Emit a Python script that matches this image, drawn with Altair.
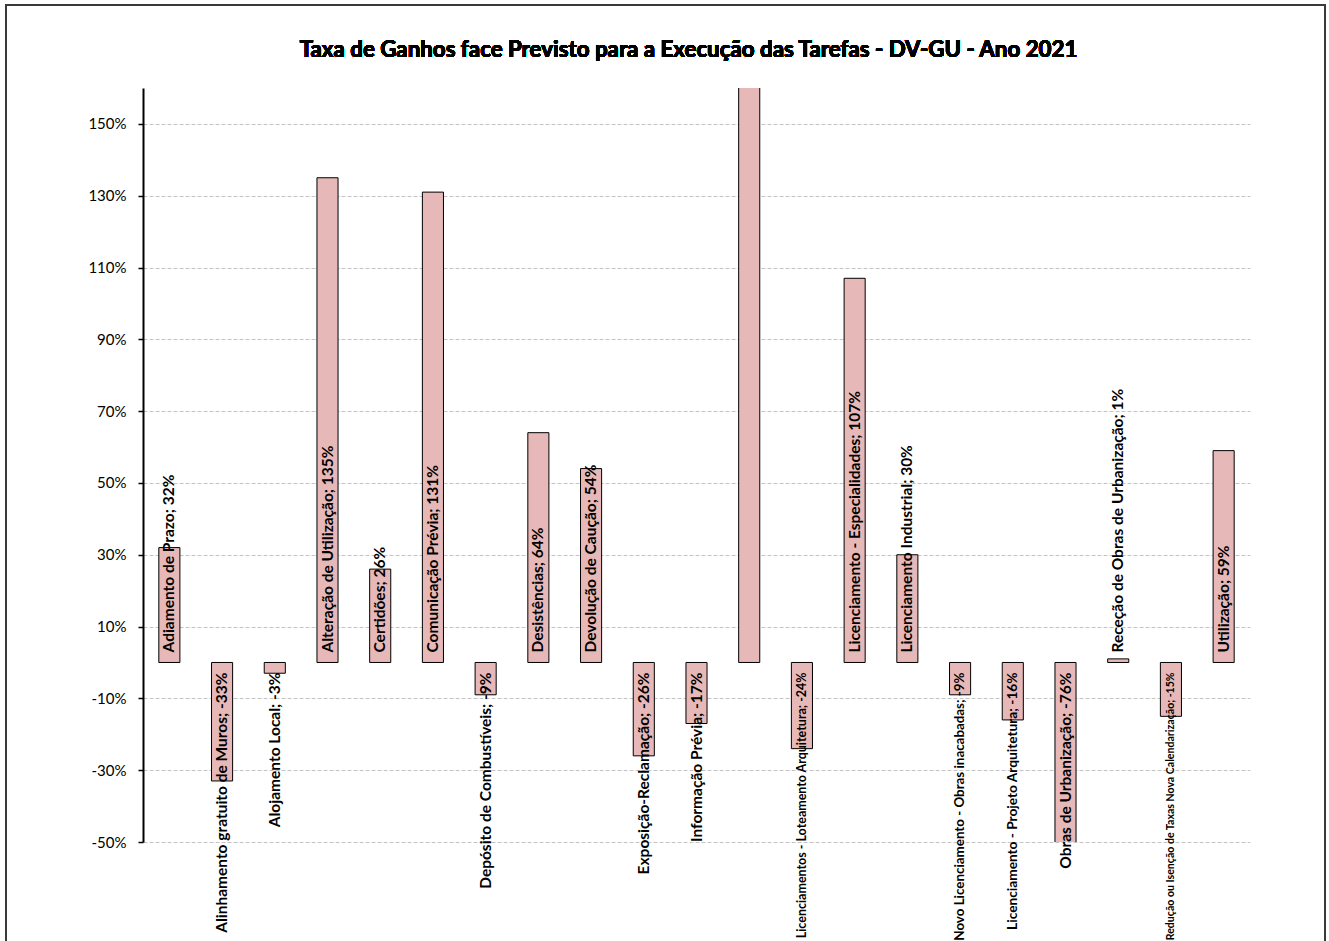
import altair as alt
import pandas as pd

# Tasks (in display order) and gain rate vs. forecast, in percent
categories = [
    "Adiamento de Prazo",
    "Alinhamento gratuito de Muros",
    "Alojamento Local",
    "Alteração de Utilização",
    "Certidões",
    "Comunicação Prévia",
    "Depósito de Combustíveis",
    "Desistências",
    "Devolução de Caução",
    "Exposição-Reclamação",
    "Informação Prévia",
    "Licenciamento",
    "Licenciamentos - Loteamento Arquitetura",
    "Licenciamento - Especialidades",
    "Licenciamento Industrial",
    "Novo Licenciamento - Obras inacabadas",
    "Licenciamento - Projeto Arquitetura",
    "Obras de Urbanização",
    "Receção de Obras de Urbanização",
    "Redução ou Isenção de Taxas Nova Calendarização",
    "Utilização",
]
values = [32, -33, -3, 135, 26, 131, -9, 64, 54, -26, -17,
          300, -24, 107, 30, -9, -16, -76, 1, -15, 59]
# the off-scale bar carries no data label
show_label = [True] * 11 + [False] + [True] * 9

y_ticks = [-50, -30, -10, 10, 30, 50, 70, 90, 110, 130, 150]
title_text = "Taxa de Ganhos face Previsto para a Execução das Tarefas - DV-GU - Ano 2021"

df = pd.DataFrame({"cat": categories, "val": values, "show": show_label})
df["label"] = df["cat"] + "; " + df["val"].astype(str) + "%"

W, H = 1107, 754
FONT = "Lato"
BASE_SIZE = 15.5
MAX_LABEL_PX = 268  # long labels are shrunk to stay within this length

x_enc = alt.X("cat:N", sort=None, axis=None,
              scale=alt.Scale(paddingInner=0.6, paddingOuter=0.3))
y_scale = alt.Scale(domain=[-50, 160], nice=False, zero=False)

bars = alt.Chart(df).mark_bar(
    clip=True, fill="#E6B8B7", stroke="#000000", strokeWidth=1
).encode(
    x=x_enc,
    y=alt.Y("val:Q", scale=y_scale, title=None,
            axis=alt.Axis(values=y_ticks, labelExpr="datum.value + '%'",
                          grid=True, gridDash=[4, 2], gridColor="#c4c4c4",
                          gridWidth=1, domainColor="#000000", domainWidth=2,
                          tickColor="#000000", tickSize=5, tickWidth=1.5,
                          labelPadding=12, labelFont=FONT,
                          labelFontSize=15, labelColor="#000000")),
    y2=alt.Y2(datum=0),
)

base_text = alt.Chart(df).transform_filter("datum.show").transform_calculate(
    fsize=f"min({BASE_SIZE}, {BASE_SIZE} * {MAX_LABEL_PX} / (length(datum.label) * 7.4))"
)

text_style = dict(angle=270, baseline="middle", font=FONT,
                  fontWeight="bold", color="#000000")
size_enc = alt.Size("fsize:Q", scale=None, legend=None)

# labels start just above the zero line for gains...
pos_text = base_text.transform_filter("datum.val >= 0").mark_text(
    align="left", dx=10, **text_style
).encode(x=x_enc, y=alt.Y(datum=0, scale=y_scale), text="label:N", size=size_enc)

# ...and end just below it for losses
neg_text = base_text.transform_filter("datum.val < 0").mark_text(
    align="right", dx=-10, **text_style
).encode(x=x_enc, y=alt.Y(datum=0, scale=y_scale), text="label:N", size=size_enc)

# outer frame of the chart area
frame = alt.Chart(df).mark_rect(
    fill="transparent", stroke="#3a3a3a", strokeWidth=2, clip=False
).encode(
    x=alt.value(-137), x2=alt.value(1182),
    y=alt.value(-83), y2=alt.value(900),
)

title = alt.Chart(df).mark_text(
    font=FONT, fontSize=22.3, fontWeight="bold", color="#000000",
    align="center", baseline="alphabetic"
).encode(x=alt.value(W / 2 - 8), y=alt.value(-31), text=alt.value(title_text))

chart = alt.layer(frame, bars, pos_text, neg_text, title).properties(
    width=W, height=H,
    background="white",
    autosize=alt.AutoSizeParams(type="none"),
    padding={"left": 143, "top": 88, "right": 79, "bottom": 99},
).configure_view(stroke=None)

chart.save("out.html", embed_options={"renderer": "svg", "actions": False})
